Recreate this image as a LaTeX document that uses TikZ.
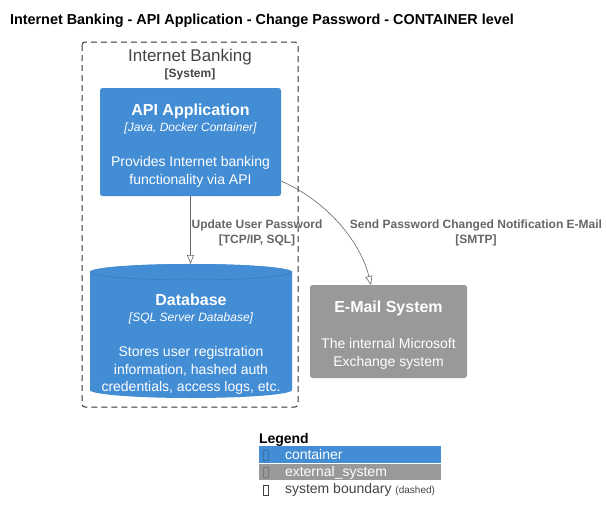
\documentclass[tikz,border=0pt]{standalone}
\usepackage{fontspec}
\setmainfont{Liberation Sans}
\usetikzlibrary{arrows.meta}
\definecolor{cblue}{HTML}{438DD5}
\definecolor{cgray}{HTML}{999999}
\definecolor{ctxt}{HTML}{444444}
\definecolor{carrow}{HTML}{666666}
\newcommand{\fs}[1]{\fontsize{#1}{#1}\selectfont}
\tikzset{
  every node/.style={inner sep=0pt, outer sep=0pt},
  reltext/.style={text=carrow, font=\fs{12}\bfseries, align=center},
  rel/.style={draw=carrow, line width=0.6pt, -{Triangle[open,length=9pt,width=7pt]}},
  wtxt/.style={text=white, anchor=base},
}
\begin{document}
\begin{tikzpicture}[x=1pt,y=-1pt]
\useasboundingbox[fill=white] (0,0) rectangle (606,525);
% title
\node[anchor=base west, font=\fs{14.4}\bfseries] (title) at (10,24) {Internet Banking - API Application - Change Password - CONTAINER level};
% boundary
\draw[black!80, dash pattern=on 6pt off 4pt, line width=1pt, rounded corners=3pt] (82,42) rectangle (298,407);
\node[anchor=base, text=ctxt, font=\fs{17}] (bname) at (190,61) {Internet Banking};
\node[anchor=base, text=ctxt, font=\fs{12}\bfseries] (btype) at (190,77) {[System]};
% API app
\fill[cblue, rounded corners=2.5pt] (100,88) rectangle (281,196);
\node[wtxt, font=\fs{16}\bfseries] (apit) at (190.5,115) {API Application};
\node[wtxt, font=\fs{12}\itshape] (apis) at (190.5,131) {[Java, Docker Container]};
\node[wtxt, font=\fs{14}] (apid1) at (190.5,166) {Provides Internet banking};
\node[wtxt, font=\fs{14}] (apid2) at (190.5,184) {functionality via API};
% database
\fill[cblue] (90,272) arc[x radius=101, y radius=8, start angle=180, end angle=360] -- (292,390) arc[x radius=101, y radius=8, start angle=0, end angle=180] -- cycle;
\fill[cblue] (191,272) ellipse[x radius=101, y radius=8];
\draw[cblue!85!black, line width=0.5pt] (90,272) arc[x radius=101, y radius=8, start angle=180, end angle=0];
\node[wtxt, font=\fs{16}\bfseries] (dbt) at (191,305) {Database};
\node[wtxt, font=\fs{12}\itshape] (dbs) at (191,321) {[SQL Server Database]};
\node[wtxt, font=\fs{14}] (dbd1) at (191,356) {Stores user registration};
\node[wtxt, font=\fs{14}] (dbd2) at (191,374) {information, hashed auth};
\node[wtxt, font=\fs{14}] (dbd3) at (191,391) {credentials, access logs, etc.};
% email
\fill[cgray, rounded corners=2.5pt] (310,285) rectangle (467,378);
\node[wtxt, font=\fs{16}\bfseries] (emt) at (388.5,312) {E-Mail System};
\node[wtxt, font=\fs{14}] (emd1) at (388.5,348) {The internal Microsoft};
\node[wtxt, font=\fs{14}] (emd2) at (388.5,366) {Exchange system};
% relations
\coordinate (apibot) at (190.5,196);
\coordinate (dbtop) at (190.5,264);
\draw[rel] (apibot) -- (dbtop);
\node[reltext, anchor=base] (l1a) at (257,228) {Update User Password};
\node[reltext, anchor=base] (l1b) at (257,243) {[TCP/IP, SQL]};
\coordinate (apiright) at (281,181);
\coordinate (emtop) at (371,285);
\draw[rel] (apiright) .. controls (325,200) and (360,240) .. (emtop);
\node[reltext, anchor=base] (l2a) at (476,228) {Send Password Changed Notification E-Mail};
\node[reltext, anchor=base] (l2b) at (476,243) {[SMTP]};
% legend
\node[anchor=base west, font=\fs{14}\bfseries] (leg) at (259,443) {Legend};
\fill[cblue] (259,446) rectangle (441,463);
\fill[cgray] (259,463) rectangle (441,480);
\draw[white, line width=0.5pt] (259,463) -- (441,463);
\draw[cblue!80!black, line width=0.3pt] (263,450) rectangle (268,460);
\draw[cgray!80!black, line width=0.3pt] (263,467) rectangle (268,477);
\draw[ctxt, line width=0.3pt] (263,485) rectangle (268,495);
\node[anchor=base west, text=white, font=\fs{14}] (lg1) at (285,459) {container};
\node[anchor=base west, text=white, font=\fs{14}] (lg2) at (285,476) {external\_system};
\node[anchor=base west, text=ctxt, font=\fs{14}] (lg3) at (285,493) {system boundary {\fs{10}(dashed)}};
\end{tikzpicture}
\end{document}
